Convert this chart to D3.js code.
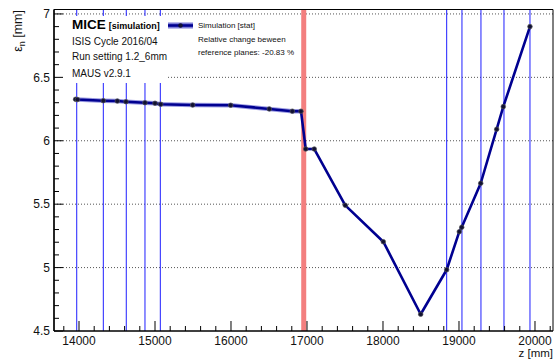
<!DOCTYPE html>
<html><head><meta charset="utf-8">
<script src="https://cdn.jsdelivr.net/npm/d3@7"></script>
<style>
html,body{margin:0;padding:0;background:#fff;}
svg{display:block;font-family:"Liberation Sans",Arial,sans-serif;}
</style></head>
<body>
<svg id="chart" width="556" height="362"></svg>
<script>
// ---- data ----
const zPos = [13955, 13980, 14320, 14504, 14618, 14868, 15000, 15075, 15496, 15996, 16504, 16807, 16921, 16983, 17096, 17504, 18004, 18496, 18838, 19004, 19036, 19286, 19496, 19583, 19934];
const emittance = [6.327, 6.325, 6.316, 6.313, 6.308, 6.300, 6.296, 6.288, 6.282, 6.280, 6.251, 6.233, 6.233, 5.935, 5.935, 5.491, 5.204, 4.632, 4.983, 5.283, 5.318, 5.665, 6.091, 6.269, 6.900];
const statErr = [0.018, 0.018, 0.018, 0.018, 0.018, 0.018, 0.018, 0.018, 0.018, 0.018, 0.018, 0.018, 0.018, 0.01, 0.01, 0.008, 0.008, 0.008, 0.008, 0.008, 0.008, 0.008, 0.008, 0.008, 0.008];
const stationZ = [13970, 14320, 14622, 14868, 15070, 18838, 19039, 19289, 19592, 19934];
const refPlaneZ = 16957;
const xMajorTicks = [14000, 15000, 16000, 17000, 18000, 19000, 20000];
const yMajorTicks = [4.5, 5, 5.5, 6, 6.5, 7];
const yGridTicks = [5, 5.5, 6, 6.5, 7];
const infoLines = ["ISIS Cycle 2016/04", "Run setting 1.2_6mm", "MAUS v2.9.1"];
const legendLines = ["Simulation [stat]", "Relative change beween", "reference planes: -20.83 %"];

// ---- layout ----
const L = 54, R = 553, T = 9.5, B = 331;
const svg = d3.select("#chart");
const x = d3.scaleLinear().domain([13671, 20237]).range([L, R]);
const y = d3.scaleLinear().domain([4.5, 7.035]).range([B, T]);

const navy = "#000090";
const bandCol = "rgba(70,70,200,0.55)";

// grid (dotted)
svg.append("g").selectAll("line").data(yGridTicks).join("line")
  .attr("x1", L).attr("x2", R)
  .attr("y1", d => y(d)).attr("y2", d => y(d))
  .attr("stroke", "#555").attr("stroke-width", 1).attr("stroke-dasharray", "1,2");

// station lines
svg.append("g").selectAll("line").data(stationZ).join("line")
  .attr("x1", d => x(d)).attr("x2", d => x(d))
  .attr("y1", T).attr("y2", B)
  .attr("stroke", "#1f1fff").attr("stroke-width", 1);

// reference plane
svg.append("line")
  .attr("x1", x(refPlaneZ)).attr("x2", x(refPlaneZ))
  .attr("y1", T).attr("y2", B)
  .attr("stroke", "#f37f7f").attr("stroke-width", 5);

// data
const pts = zPos.map((z, i) => ({z, v: emittance[i], e: statErr[i]}));
svg.append("path").datum(pts)
  .attr("d", d3.area().x(d => x(d.z)).y0(d => y(d.v - d.e)).y1(d => y(d.v + d.e)))
  .attr("fill", bandCol);
svg.append("path").datum(pts)
  .attr("d", d3.line().x(d => x(d.z)).y(d => y(d.v)))
  .attr("fill", "none").attr("stroke", navy).attr("stroke-width", 2.6)
  .attr("stroke-linejoin", "round");
svg.append("g").selectAll("circle").data(pts).join("circle")
  .attr("cx", d => x(d.z)).attr("cy", d => y(d.v)).attr("r", 2.3)
  .attr("fill", "#111133").attr("stroke", "#555").attr("stroke-width", 0.7);

// info box (white background)
svg.append("rect").attr("x", L + 1).attr("y", 16).attr("width", 112).attr("height", 67).attr("fill", "#fff");
const info = svg.append("g");
const mice = info.append("text").attr("x", 72).attr("y", 28.5).attr("font-weight", "bold");
mice.append("tspan").attr("font-size", 13.5).text("MICE");
mice.append("tspan").attr("font-size", 9).attr("dx", 3).text("[simulation]");
infoLines.forEach((t, i) => {
  info.append("text").attr("x", 72).attr("y", [44.5, 59.5, 77][i])
    .attr("font-size", 10).attr("fill", "#111").text(t);
});

// legend
svg.append("rect").attr("x", 168).attr("y", 22.5).attr("width", 25).attr("height", 6).attr("fill", "rgba(70,70,200,0.7)");
svg.append("line").attr("x1", 168).attr("x2", 193).attr("y1", 25.5).attr("y2", 25.5).attr("stroke", navy).attr("stroke-width", 2.6);
svg.append("circle").attr("cx", 180.5).attr("cy", 25.5).attr("r", 2.3).attr("fill", "#111133");
legendLines.forEach((t, i) => {
  svg.append("text").attr("x", 198).attr("y", [28, 41.5, 55][i])
    .attr("font-size", 8).attr("fill", "#111").text(t);
});

// frame
svg.append("path").attr("d", `M${L},${B}V${T}H${R}V${B}`)
  .attr("fill", "none").attr("stroke", "#000").attr("stroke-width", 1);

// x axis
const xMinor = d3.range(13800, 20201, 200).filter(v => !xMajorTicks.includes(v));
const xa = svg.append("g").attr("transform", `translate(0,${B})`);
xa.append("line").attr("x1", L).attr("x2", R).attr("stroke", "#000").attr("stroke-width", 1.4);
xa.selectAll(".mn").data(xMinor).join("line").attr("class", "mn")
  .attr("x1", d => x(d)).attr("x2", d => x(d)).attr("y1", 0).attr("y2", -5)
  .attr("stroke", "#000");
xa.selectAll(".mj").data(xMajorTicks).join("line").attr("class", "mj")
  .attr("x1", d => x(d)).attr("x2", d => x(d)).attr("y1", 0).attr("y2", -10)
  .attr("stroke", "#000");
xa.selectAll("text").data(xMajorTicks).join("text")
  .attr("x", d => x(d)).attr("y", 13.8).attr("text-anchor", "middle")
  .attr("font-size", 12).attr("fill", "#111").text(d => d);
svg.append("text").attr("x", 553).attr("y", 357).attr("text-anchor", "end")
  .attr("font-size", 11.5).attr("fill", "#111").text("z [mm]");

// y axis
const yMinor = d3.range(45, 71, 1).map(v => v / 10).filter(v => !yMajorTicks.some(m => Math.abs(m - v) < 1e-9));
const ya = svg.append("g").attr("transform", `translate(${L},0)`);
ya.append("line").attr("y1", T).attr("y2", B).attr("stroke", "#000").attr("stroke-width", 1.4);
ya.selectAll(".mn").data(yMinor).join("line").attr("class", "mn")
  .attr("x1", 0).attr("x2", 5).attr("y1", d => y(d)).attr("y2", d => y(d)).attr("stroke", "#000");
ya.selectAll(".mj").data(yMajorTicks).join("line").attr("class", "mj")
  .attr("x1", 0).attr("x2", 9).attr("y1", d => y(d)).attr("y2", d => y(d)).attr("stroke", "#000");
ya.selectAll("text").data(yMajorTicks).join("text")
  .attr("x", -4).attr("y", d => y(d) + 4.3).attr("text-anchor", "end")
  .attr("font-size", 12).attr("fill", "#111").text(d => d);

const yl = svg.append("text").attr("transform", "translate(22,10) rotate(-90)")
  .attr("text-anchor", "end").attr("font-size", 12.5).attr("fill", "#111");
yl.append("tspan").text("ε");
yl.append("tspan").attr("font-size", 9).attr("dy", 3).text("n");
yl.append("tspan").attr("dy", -3).text(" [mm]");
</script>
</body></html>
